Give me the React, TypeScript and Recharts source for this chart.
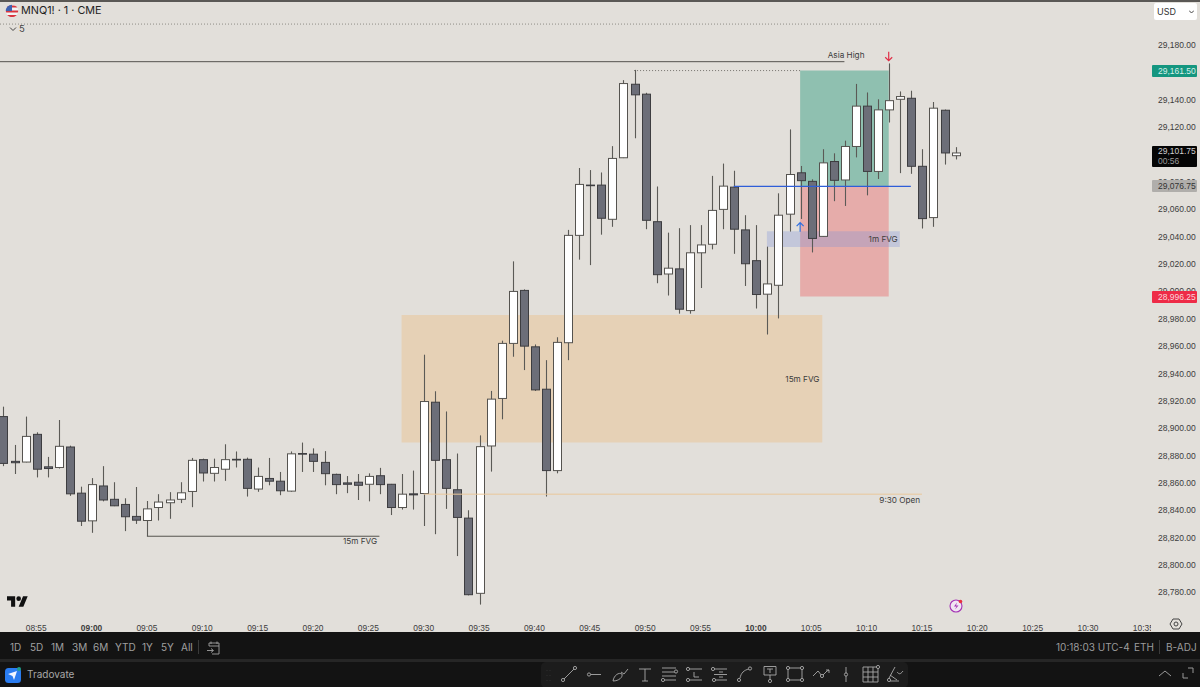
import { ComposedChart, Bar, XAxis, YAxis, ReferenceArea, ReferenceLine, ReferenceDot } from 'recharts'

// one candle per minute, first one is 08:52
const firstMinute = 532
const opens = [
  28908.5, 28875.75, 28875.25, 28895.5, 28871.75, 28871.25, 28886.25, 28852.5, 28832.25, 28857.75,
  28848, 28844.25, 28835.5, 28832.5, 28842, 28845.5, 28848, 28853.75, 28877, 28867,
  28870, 28877.25, 28877.25, 28855.5, 28863.25, 28861.25, 28854, 28881.5, 28881, 28875,
  28866.25, 28860, 28860.5, 28859, 28865.25, 28859, 28842, 28852, 28852.25, 28919,
  28877, 28855, 28834.25, 28779.25, 28887, 28921.75, 28962, 29000.75, 28959.5, 28928.5,
  28869, 28962.5, 29041, 29077.75, 29077.75, 29052.75, 29097.75, 29151.5, 29144.25, 29051,
  29012.75, 29016.5, 28986, 29028.25, 29034.5, 29060, 29076.25, 29045, 29022.5, 28998,
  29004.5, 29056.5, 29086.75, 29080.5, 29040.25, 29095, 29081.5, 29106, 29135.5, 29087.75,
  29132.75, 29140.5, 29141.25, 29091.5, 29054, 29132.5, 29099.25,
]
const closes = [
  28874.25, 28874.75, 28894, 28870, 28870.5, 28886.75, 28852, 28832, 28858.75, 28847.5,
  28843.25, 28835.25, 28832.75, 28841, 28846, 28847.5, 28852.75, 28876.5, 28867.25, 28871.25,
  28877, 28876.75, 28856, 28864.75, 28861.25, 28854.25, 28881.25, 28881, 28875.75, 28866.75,
  28858.75, 28859, 28858.25, 28864.75, 28858.75, 28842, 28851.75, 28851.25, 28919.5, 28876.5,
  28856, 28834.75, 28778.25, 28886.5, 28921.25, 28962, 29000, 28960, 28928, 28869,
  28962.75, 29041, 29078.25, 29077.5, 29053.5, 29097.25, 29152, 29143.75, 29052, 29012.25,
  29017, 28987, 29028.25, 29034, 29059.25, 29077, 29045.5, 29020.25, 28997.75, 29005.5,
  29055.75, 29085.5, 29081, 29038.75, 29094, 29081.25, 29106, 29135.5, 29087.75, 29132.75,
  29139.5, 29142.5, 29091.5, 29053.25, 29134, 29101.25, 29101.25,
]
const highs = [
  28915.75, 28887.75, 28908.5, 28897, 28879, 28906, 28887.25, 28857.25, 28863.5, 28872.25,
  28860.5, 28848.75, 28857, 28846.75, 28851.75, 28853.25, 28860.5, 28878.25, 28877.75, 28877.75,
  28888.25, 28883, 28878.5, 28871.25, 28878.25, 28868, 28883, 28889.5, 28885.25, 28883.25,
  28866.75, 28865, 28866.5, 28867, 28871, 28859.25, 28866.5, 28869, 28953.75, 28927,
  28912.25, 28881.5, 28840, 28894.75, 28927.25, 28964, 29022, 29001.5, 28961.25, 28949.75,
  28966.5, 29045, 29090.25, 29088.75, 29087, 29106.25, 29154.5, 29162, 29145.25, 29076.75,
  29043, 29046.25, 29048.5, 29048.5, 29084.5, 29093.5, 29088.25, 29055.75, 29048.5, 29032.75,
  29071.75, 29118.5, 29091.75, 29082, 29104, 29101, 29110.25, 29151.75, 29145.5, 29140.5,
  29166.75, 29146.25, 29146.75, 29104, 29138.5, 29133, 29105.5,
]
const lows = [
  28872.25, 28866.5, 28875, 28864, 28864, 28870.5, 28850.5, 28828.5, 28823.5, 28846.5,
  28843, 28824.75, 28830, 28821, 28832.5, 28833.75, 28845.25, 28842.25, 28861, 28861,
  28861.5, 28871.25, 28850, 28853.5, 28858.25, 28851, 28853.5, 28868, 28868, 28858.25,
  28851.75, 28852.5, 28847.5, 28846.5, 28851.75, 28836.5, 28840.5, 28840.5, 28828.5, 28822.5,
  28841, 28806.5, 28777.75, 28771, 28868.25, 28906.5, 28952.25, 28942.5, 28927.25, 28850,
  28867, 28949.75, 29023.25, 29019.25, 29041.5, 29047.25, 29097.5, 29112, 29045.5, 29006,
  28997, 28983.75, 28983.75, 29002.5, 29030.75, 29045.5, 29027.5, 29004, 28987.5, 28968.5,
  28980.25, 29043.75, 29053, 29028.5, 29040, 29066, 29062.5, 29098, 29070.25, 29082.25,
  29123.5, 29086.5, 29086, 29046, 29047.25, 29092.75, 29096.5,
]

const priceTicks = [
  28780, 28800, 28820, 28840, 28860, 28880, 28900, 28920, 28940, 28960, 28980, 29000, 29020,
  29040, 29060, 29080, 29100, 29120, 29140, 29180,
]
const timeTicks = [535, 540, 545, 550, 555, 560, 565, 570, 575, 580, 585, 590, 595, 600, 605, 610, 615, 620, 625, 630, 635]

const entryPrice = 29076.75
const targetPrice = 29161.5
const stopPrice = 28996.25
const lastPrice = 29101.75
const asiaHigh = 29168
const openLevel = 28851.75
const lowerFvgLevel = 28821
const topDotted = 29195.5

const rangeButtons = ['1D', '5D', '1M', '3M', '6M', 'YTD', '1Y', '5Y', 'All']
const rangeButtonX = [10, 30, 51, 72, 93, 115, 142, 161, 181]

const notes = [
  { text: '15m FVG', minute: 604.2, price: 28936 },
  { text: '15m FVG', minute: 564.25, price: 28817.25 },
  { text: '1m FVG', minute: 611.5, price: 29038.25 },
  { text: 'Asia High', minute: 608.15, price: 29173 },
  { text: '9:30 Open', minute: 613, price: 28847.5 },
]

const candles = opens.map((open, i) => ({
  minute: firstMinute + i,
  open,
  close: closes[i],
  high: highs[i],
  low: lows[i],
  range: [lows[i], highs[i]],
}))

const W = 1200
const H = 632
const PLOT_H = 612
const Y_TOP = 29213.1
const Y_BOTTOM = 28765.6
const BG = '#e2dfda'
const FONT = 'Inter, "Noto Sans", sans-serif'
const AXIS_FONT = '"Liberation Sans", Arial, sans-serif'

const priceY = (p: number) => ((Y_TOP - p) / (Y_TOP - Y_BOTTOM)) * PLOT_H
const fmtPrice = (p: number) => p.toLocaleString('en-US', { minimumFractionDigits: 2, maximumFractionDigits: 2 })
const fmtTime = (m: number) =>
  `${String(Math.floor(m / 60)).padStart(2, '0')}:${String(m % 60).padStart(2, '0')}`

function Candle(props: any) {
  const { x, y, width, height, payload } = props
  const { open, close, high, low } = payload
  const perPoint = height / (high - low)
  const top = y + (high - Math.max(open, close)) * perPoint
  const bottom = y + (high - Math.min(open, close)) * perPoint
  const up = close >= open
  const mid = Math.round(x + width / 2) + 0.5
  return (
    <g>
      <line x1={mid} x2={mid} y1={y} y2={y + height} stroke="#5b5a56" strokeWidth={1.1} />
      <rect
        x={mid - 4}
        y={top}
        width={8}
        height={Math.max(bottom - top, 0.6)}
        fill={up ? '#ffffff' : '#6c6e78'}
        stroke={up ? '#55534f' : '#3d3d40'}
        strokeWidth={1}
      />
    </g>
  )
}

function TimeTick(props: any) {
  const { x, y, payload } = props
  const bold = payload.value % 60 === 0
  return (
    <text x={x} y={y + 11} textAnchor="middle" fontSize={8.4} fontFamily={AXIS_FONT} fontWeight={bold ? 700 : 400} fill="#3c3c3c">
      {fmtTime(payload.value)}
    </text>
  )
}

function PriceTag({ price, fill, color, extra }: { price: number; fill: string; color: string; extra?: string }) {
  return (
    <div
      style={{
        position: 'absolute',
        left: 1152,
        width: 45,
        top: priceY(price) - 6,
        height: extra ? 21 : 12,
        background: fill,
        color,
        fontFamily: AXIS_FONT,
        fontSize: 8.5,
        lineHeight: extra ? '10px' : '12px',
        textAlign: 'left',
        paddingLeft: 6,
        boxSizing: 'border-box',
        borderRadius: 1,
      }}
    >
      {fmtPrice(price)}
      {extra && <div style={{ color: '#9a9a9a' }}>{extra}</div>}
    </div>
  )
}

function Arrow({ cx, cy, color, up }: { cx: number; cy: number; color: string; up: boolean }) {
  const s = up ? -1 : 1
  return (
    <path
      d={`M${cx} ${cy - 4.5 * s}V${cy + 4.5 * s}M${cx - 3.5} ${cy + 1 * s}L${cx} ${cy + 4.5 * s}L${cx + 3.5} ${cy + 1 * s}`}
      fill="none"
      stroke={color}
      strokeWidth={1.2}
    />
  )
}

function Toolbar() {
  const c = '#a9a9a9'
  const knob = (x: number, y: number) => <circle cx={x} cy={y} r={1.6} fill="#1b1b1b" stroke={c} strokeWidth={0.9} />
  return (
    <svg width={400} height={37} viewBox="530 650 400 37" style={{ position: 'absolute', left: 530, top: 650 }}>
      <rect x={541} y={662} width={367} height={26} rx={5} fill="#1c1c1c" />
      <g fill="none" stroke={c} strokeWidth={0.9}>
        <path d="M547 670v.5M550 670v.5M547 675v.5M550 675v.5M547 680v.5M550 680v.5" stroke="#4a4a4a" />
        <path d="M563 680L574 669" />{knob(563, 680)}{knob(575, 668)}
        <path d="M590 674.5H601" />{knob(589, 674.5)}
        <path d="M613 681c1-6 6-9 9-7c1 3-3 7-9 7zM621 672l3 2l4-5" />
        <path d="M639 669H651M645 669V681M642 681H648" />
        <path d="M662 668H676M662 672H676M662 676H676M664 680H676" />{knob(676, 671.5)}{knob(663, 680)}
        <path d="M689 669H702M689 680H702M694 672V677H699" />{knob(688, 669)}{knob(688, 680)}
        <path d="M714 669H727M714 680H727M714 674.5H727M719 672H723M719 677H723" />{knob(713, 669)}{knob(714, 680)}
        <path d="M740 678c1-5 4-8 9-9" />{knob(739, 680)}{knob(750, 668.5)}
        <path d="M764 666.5H776V675H764zM767 669H773M770 669V673M770 675V680" />{knob(770, 681)}
        <path d="M788 668H802V680H788z" />{knob(788, 668)}{knob(802, 668)}{knob(788, 680)}{knob(802, 680)}
        <path d="M813 676L818 671L822 676L827 671L829 670M826 670H829V673" />{knob(822, 676)}
        <path d="M846 667V682" />{knob(846, 674.5)}
        <path d="M863 667H878V682H863zM863 672H878M863 677H878M868 667V682M873 667V682" />{knob(878, 667)}
        <path d="M888 680L895 667M889 681H899M890 675L897 680M897 672c2 2 3 3 6-1" />{knob(889, 680)}
      </g>
    </svg>
  )
}

export default function App() {
  return (
    <div style={{ position: 'absolute', left: 0, top: 0, width: W, height: 687, overflow: 'hidden', background: BG, fontFamily: FONT }}>
      <ComposedChart width={W} height={H} data={candles} margin={{ top: 0, right: 0, bottom: 0, left: 0 }}>
        <XAxis
          dataKey="minute"
          type="number"
          domain={[531.73, 635.6]}
          allowDataOverflow
          ticks={timeTicks}
          interval={0}
          height={20}
          axisLine={false}
          tickLine={false}
          tick={<TimeTick />}
        />
        <YAxis
          orientation="right"
          type="number"
          domain={[Y_BOTTOM, Y_TOP]}
          allowDataOverflow
          ticks={priceTicks}
          interval={0}
          width={50}
          axisLine={false}
          tickLine={false}
          tickFormatter={fmtPrice}
          tick={{ fontSize: 8.5, fill: '#3c3c3c', fontFamily: AXIS_FONT }}
        />
        <ReferenceArea x1={568} x2={606} y1={28889.5} y2={28982.75} fill="#e6d1b6" fillOpacity={1} stroke="none" />
        <ReferenceArea x1={604} x2={612} y1={entryPrice} y2={targetPrice} fill="#8fc0b0" fillOpacity={1} stroke="none" />
        <ReferenceArea x1={604} x2={612} y1={stopPrice} y2={entryPrice} fill="#e6acaa" fillOpacity={1} stroke="none" />
        <ReferenceArea x1={601} x2={613} y1={29032.5} y2={29044} fill="#7a93dc" fillOpacity={0.3} stroke="none" />
        <ReferenceLine segment={[{ x: 531.73, y: topDotted }, { x: 612, y: topDotted }]} stroke="#8e8c86" strokeDasharray="1 2" />
        <ReferenceLine segment={[{ x: 531.73, y: asiaHigh }, { x: 608, y: asiaHigh }]} stroke="#55534f" strokeWidth={1} />
        <ReferenceLine segment={[{ x: 589, y: targetPrice }, { x: 604, y: targetPrice }]} stroke="#77756f" strokeDasharray="1 2" />
        <ReferenceLine segment={[{ x: 598, y: entryPrice }, { x: 614, y: entryPrice }]} stroke="#2f5ed8" strokeWidth={1.3} />
        <ReferenceLine segment={[{ x: 570, y: openLevel }, { x: 615, y: openLevel }]} stroke="#e9c79b" strokeWidth={1} />
        <ReferenceLine segment={[{ x: 545, y: lowerFvgLevel }, { x: 566, y: lowerFvgLevel }]} stroke="#55534f" strokeWidth={1} />
        <Bar dataKey="range" barSize={8} shape={<Candle />} isAnimationActive={false} />
        {notes.map((n, i) => (
          <ReferenceDot
            key={i}
            x={n.minute}
            y={n.price}
            r={0}
            shape={(p: any) => (
              <text x={p.cx} y={p.cy + 3} textAnchor="middle" fontSize={8.2} fontFamily={FONT} fill="#3c3c3c">
                {n.text}
              </text>
            )}
          />
        ))}
        <ReferenceDot x={604} y={29047} r={0} shape={(p: any) => <Arrow cx={p.cx} cy={p.cy} color="#2f6fe0" up />} />
        <ReferenceDot x={612} y={29172} r={0} shape={(p: any) => <Arrow cx={p.cx} cy={p.cy} color="#e03048" up={false} />} />
      </ComposedChart>

      {/* top edge and legend */}
      <div style={{ position: 'absolute', left: 0, top: 0, width: W, height: 1.5, background: '#5a5855' }} />
      <svg width={14} height={14} style={{ position: 'absolute', left: 5, top: 4 }} viewBox="0 0 14 14">
        <defs>
          <clipPath id="flag"><circle cx={7} cy={7} r={6.2} /></clipPath>
        </defs>
        <g clipPath="url(#flag)">
          <rect width={14} height={14} fill="#f3f3f3" />
          <path d="M0 2.5H14M0 7.5H14M0 12H14" stroke="#d8353f" strokeWidth={2} />
          <rect width={7} height={7} fill="#3d62b0" />
        </g>
      </svg>
      <div style={{ position: 'absolute', left: 21, top: 4, fontSize: 10.8, color: '#222', lineHeight: '14px' }}>MNQ1! · 1 · CME</div>
      <svg width={8} height={6} style={{ position: 'absolute', left: 9, top: 26 }}>
        <path d="M1 1.5L4 4.5L7 1.5" fill="none" stroke="#444" strokeWidth={1} />
      </svg>
      <div style={{ position: 'absolute', left: 19, top: 23, fontSize: 9.5, color: '#444', lineHeight: '12px' }}>5</div>

      {/* price scale */}
      <div style={{ position: 'absolute', left: 1154, top: 3, width: 43, height: 17, background: '#fff', borderRadius: 2, fontSize: 9, lineHeight: '17px', color: '#333', paddingLeft: 3, boxSizing: 'border-box' }}>
        USD
        <svg width={5} height={4} style={{ position: 'absolute', right: 3, top: 7 }}><path d="M0 0.5L2.5 3L5 0.5" fill="none" stroke="#444" /></svg>
      </div>
      <PriceTag price={targetPrice} fill="#14967f" color="#d8f0ea" />
      <PriceTag price={lastPrice} fill="#050505" color="#d0d0d0" extra="00:56" />
      <PriceTag price={entryPrice} fill="#b0aeab" color="#333" />
      <PriceTag price={stopPrice} fill="#ee2b47" color="#fbd5da" />

      {/* logo, lightning, settings */}
      <svg width={21} height={12} viewBox="0 0 36 20" style={{ position: 'absolute', left: 7, top: 595 }}>
        <path d="M14 20H7V9H0V2h14zM28 20h-8l7.5-18h8z" fill="#111" />
        <circle cx={20} cy={6} r={4} fill="#111" />
      </svg>
      <svg width={16} height={16} viewBox="0 0 16 16" style={{ position: 'absolute', left: 948, top: 598 }}>
        <circle cx={8} cy={8} r={6} fill="#f0e6f2" stroke="#a432b5" strokeWidth={1.1} />
        <path d="M9 4.5L6 8.5H8.5L7 11.5L10.5 7.5H8z" fill="#a432b5" />
        <circle cx={12.5} cy={3.5} r={1.8} fill="#e8303f" />
      </svg>
      <div style={{ position: 'absolute', left: 1151, top: 612, width: 49, height: 20, background: BG }}>
        <svg width={14} height={14} viewBox="0 0 14 14" style={{ position: 'absolute', left: 18, top: 5 }}>
          <path d="M4 2H10L13 7L10 12H4L1 7Z" fill="none" stroke="#444" />
          <circle cx={7} cy={7} r={2} fill="none" stroke="#444" />
        </svg>
      </div>

      {/* bottom bars */}
      <div style={{ position: 'absolute', left: 0, top: 632, width: W, height: 55, background: '#131313', color: '#9c9c9c' }} />
      <div style={{ position: 'absolute', left: 0, top: 659, width: W, height: 2.5, background: '#262626' }} />
      {rangeButtons.map((b, i) => (
        <div key={b} style={{ position: 'absolute', left: rangeButtonX[i], top: 640, fontSize: 10, lineHeight: '14px', color: '#a0a0a0' }}>{b}</div>
      ))}
      <div style={{ position: 'absolute', left: 198, top: 640, width: 1, height: 14, background: '#3a3a3a' }} />
      <svg width={15} height={15} viewBox="0 0 15 15" style={{ position: 'absolute', left: 206, top: 640 }}>
        <path d="M3 6V3H13V14H6M3 6H13M5 1.5V4M11 1.5V4M1 10.5H7M5 8.5L7.5 10.5L5 12.5" fill="none" stroke="#a0a0a0" strokeWidth={0.9} />
      </svg>
      <svg width={18} height={18} viewBox="0 0 18 18" style={{ position: 'absolute', left: 4, top: 666 }}>
        <rect x={1} y={2} width={16} height={15} rx={3.5} fill="#2a7cf0" />
        <path d="M4 8L13 5L10 14L8.5 10z" fill="#f2f6ff" />
        <circle cx={15} cy={3} r={2} fill="#1f9d8a" />
      </svg>
      <div style={{ position: 'absolute', left: 27, top: 667, fontSize: 10, lineHeight: '14px', color: '#a8a8a8' }}>Tradovate</div>
      <div style={{ position: 'absolute', left: 1056, top: 640, fontSize: 10, lineHeight: '14px', color: '#9c9c9c' }}>10:18:03 UTC-4</div>
      <div style={{ position: 'absolute', left: 1134, top: 640, fontSize: 10, lineHeight: '14px', color: '#9c9c9c' }}>ETH</div>
      <div style={{ position: 'absolute', left: 1159, top: 640, width: 1, height: 14, background: '#3a3a3a' }} />
      <div style={{ position: 'absolute', left: 1166, top: 640, fontSize: 10, lineHeight: '14px', color: '#9c9c9c' }}>B-ADJ</div>
      <svg width={40} height={16} viewBox="0 0 40 16" style={{ position: 'absolute', left: 1158, top: 667 }}>
        <path d="M1 9L7 4L13 9M25 6V11H30M30 1H35V6" fill="none" stroke="#999" strokeWidth={1} />
      </svg>
      <Toolbar />
    </div>
  )
}
